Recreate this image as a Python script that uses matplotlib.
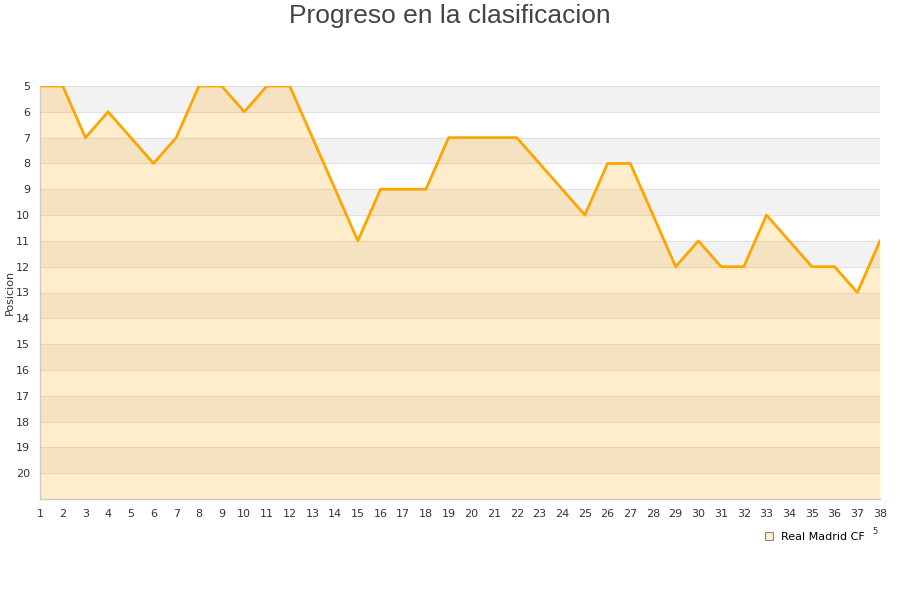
import matplotlib
matplotlib.use("Agg")
import matplotlib.pyplot as plt
from matplotlib.patches import Patch

matchdays = list(range(1, 39))
positions = [5, 5, 7, 6, 7, 8, 7, 5, 5, 6, 5, 5, 7, 9, 11, 9, 9, 9, 7, 7,
             7, 7, 8, 9, 10, 8, 8, 10, 12, 11, 12, 12, 10, 11, 12, 12, 13, 11]
y_ticks = list(range(5, 21))
team = "Real Madrid CF"
title = "Progreso en la clasificacion"
ylabel = "Posicion"

fig = plt.figure(figsize=(9, 6), dpi=100)
ax = fig.add_axes([40/900, 1-499/600, 840/900, (499-86)/600])

ymin, ymax = 5, 21
for y in range(ymin, ymax):
    if (y - ymin) % 2 == 0:
        ax.axhspan(y, y + 1, color="#f2f2f2", lw=0, zorder=0)
for y in range(ymin, ymax):
    ax.axhline(y, color="#e0e0e0", lw=0.8, zorder=1)

ax.fill_between(matchdays, positions, ymax, color="#ffa500", alpha=0.2, lw=0, zorder=2)
ax.plot(matchdays, positions, color="#ffa500", lw=2.0, zorder=3)

ax.set_xlim(1, 38)
ax.set_ylim(ymax, ymin)
ax.set_xticks(matchdays)
ax.set_xticklabels([str(m) for m in matchdays])
ax.set_yticks(y_ticks)
ax.set_yticklabels([str(t) for t in y_ticks])
ax.tick_params(length=0, labelsize=8, colors="#333333", pad=7)
for s in ["top", "right"]:
    ax.spines[s].set_visible(False)
for s in ["left", "bottom"]:
    ax.spines[s].set_color("#cccccc")
    ax.spines[s].set_linewidth(1)
ax.set_ylabel(ylabel, fontsize=8, color="#333333", labelpad=2)
ax.yaxis.set_label_coords(-0.0298, 0.5)

fig.text(0.5, 1-16/600, title, ha="center", va="center", fontsize=19,
         color="#444444", family="Liberation Sans")

handle = Patch(facecolor="#ffeecc", edgecolor="#888888", lw=0.8)
fig.legend([handle], [team], loc="center left", bbox_to_anchor=(755/900, 1-537/600),
           frameon=False, fontsize=8, handlelength=0.7, handleheight=0.7, handletextpad=0.7)
fig.text(875/900, 1-532/600, "5", fontsize=6, color="#333333", ha="center", va="center")

fig.savefig("out.png", dpi=100)
